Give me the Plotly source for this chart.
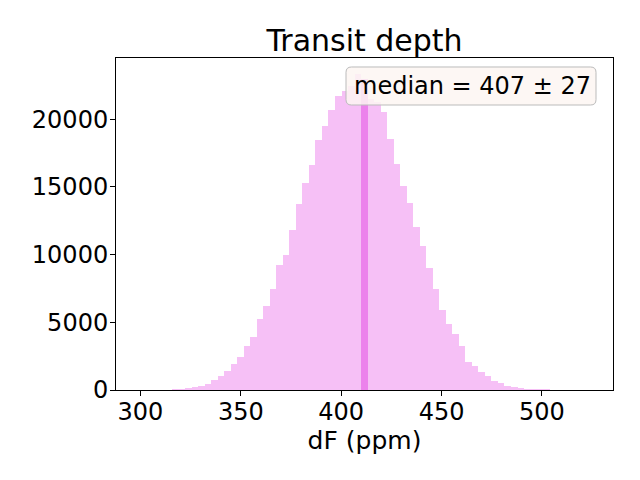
import plotly.graph_objects as go

# Histogram data
BIN_START = 302.7      # left edge of first bin (ppm)
BIN_WIDTH = 3.248      # bin width (ppm)
COUNTS = [5, 10, 20, 35, 55, 90, 150, 250, 320, 480,
          720, 1020, 1410, 1957, 2445, 3257, 3878, 5251, 6211, 7467,
          9218, 9956, 11854, 13723, 15252, 16604, 18450, 19500, 20650, 21750,
          22120, 22440, 23350, 23000, 21500, 21260, 20520, 18502, 16677, 15053,
          13775, 12047, 10621, 8974, 7423, 5894, 4860, 4173, 3250, 2100,
          1750, 1360, 1000, 690, 490, 330, 220, 170, 110, 80,
          55, 40, 30, 20, 12, 8, 5]
MEDIAN_BIN = 33        # index of highlighted bin
TITLE = "Transit depth"
XLABEL = "dF (ppm)"
LEGEND_TEXT = "median = 407 ± 27"
X_TICKS = [300, 350, 400, 450, 500]
Y_TICKS = [0, 5000, 10000, 15000, 20000]
Y_TICK_TEXT = ["0", "5000", "10000", "15000", "20000"]

centers = [BIN_START + BIN_WIDTH * (i + 0.5) for i in range(len(COUNTS))]

fig = go.Figure()
fig.add_trace(go.Bar(x=centers, y=COUNTS, width=BIN_WIDTH,
                     marker=dict(color="rgba(238,130,238,0.5)", line=dict(width=0)),
                     showlegend=False, hoverinfo="skip"))
fig.add_trace(go.Bar(x=[centers[MEDIAN_BIN]], y=[COUNTS[MEDIAN_BIN]], width=BIN_WIDTH,
                     marker=dict(color="rgba(232,110,232,0.75)", line=dict(width=0)),
                     showlegend=False, hoverinfo="skip"))

font_family = "DejaVu Sans"
fig.update_layout(
    width=640, height=480,
    margin=dict(l=108, r=35, t=50, b=98, autoexpand=False),
    paper_bgcolor="white", plot_bgcolor="white",
    barmode="overlay", bargap=0,
    font=dict(family=font_family, size=24, color="black"),
    title=dict(text=TITLE, x=0.5, xref="paper", xanchor="center",
               y=1 - 32 / 480, yanchor="middle", automargin=False,
               font=dict(family=font_family, size=30, color="black")),
    showlegend=False,
)
fig.update_xaxes(range=[287.8, 535.4], tickvals=X_TICKS, ticks="outside", ticklen=5,
                 tickwidth=1, tickcolor="black", showline=True, linecolor="black",
                 linewidth=1, mirror=True, showgrid=False, zeroline=False,
                 automargin=False, ticklabelstandoff=-5,
                 title=dict(text=XLABEL, standoff=4, font=dict(size=25)),
                 tickfont=dict(size=24))
fig.update_yaxes(range=[0, 24520], tickvals=Y_TICKS, ticktext=Y_TICK_TEXT,
                 ticks="outside", ticklen=5,
                 tickwidth=1, tickcolor="black", showline=True, linecolor="black",
                 linewidth=1, mirror=True, showgrid=False, zeroline=False,
                 automargin=False, ticklabelstandoff=-3,
                 tickfont=dict(size=24))

# rounded legend-style box (paper coordinates)
x0, x1, y0, y1 = 0.4628, 0.9658, 0.8584, 0.9729
rx, ry = 0.011, 0.016
path = (f"M {x0+rx},{y0} L {x1-rx},{y0} Q {x1},{y0} {x1},{y0+ry} "
        f"L {x1},{y1-ry} Q {x1},{y1} {x1-rx},{y1} "
        f"L {x0+rx},{y1} Q {x0},{y1} {x0},{y1-ry} "
        f"L {x0},{y0+ry} Q {x0},{y0} {x0+rx},{y0} Z")
fig.add_shape(type="path", path=path, xref="paper", yref="paper", layer="above",
              fillcolor="rgba(253,246,242,0.85)", line=dict(color="#bbbbbb", width=1))

fig.add_annotation(text=LEGEND_TEXT, xref="paper", yref="paper",
                   x=(x0 + x1) / 2 + 0.002, y=(y0 + y1) / 2,
                   xanchor="center", yanchor="middle",
                   showarrow=False, font=dict(family=font_family, size=24, color="black"))

fig.write_html("out.html")
